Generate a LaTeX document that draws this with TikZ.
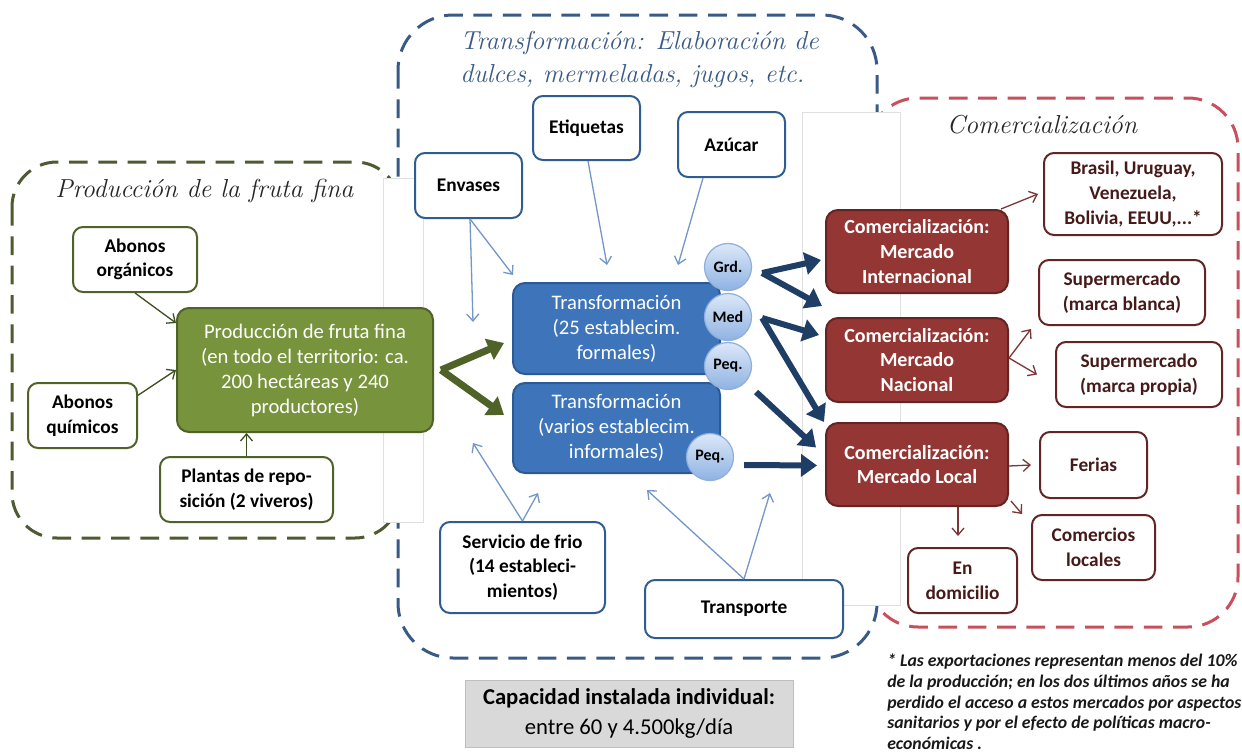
\documentclass[tikz,border=0pt]{standalone}
\usepackage{fontspec}
\newfontfamily\calib{Carlito}
\usetikzlibrary{arrows.meta}
\def\px{0.75pt}
\definecolor{gdark}{HTML}{4F6228}
\definecolor{gfill}{HTML}{77933C}
\definecolor{gdash}{HTML}{4E5A30}
\definecolor{bdash}{HTML}{3A5A86}
\definecolor{bfill}{HTML}{3E75BA}
\definecolor{bbord}{HTML}{2C5A94}
\definecolor{bline}{HTML}{2F5D91}
\definecolor{bthin}{HTML}{7397C8}
\definecolor{bthick}{HTML}{1F3E66}
\definecolor{rfill}{HTML}{943634}
\definecolor{rbord}{HTML}{632523}
\definecolor{rdash}{HTML}{C8505C}
\definecolor{rthin}{HTML}{7B3535}
\definecolor{ctop}{HTML}{DCE8F8}
\definecolor{cbot}{HTML}{8FB2E3}
\definecolor{cbord}{HTML}{8EAEDB}
\definecolor{capf}{HTML}{D9D9D9}
\definecolor{capb}{HTML}{BFBFBF}
\tikzset{
  sz/.style 2 args={minimum width=#1*\px, minimum height=#2*\px},
  region/.style={line width=3*\px, dash pattern=on 14pt off 8pt},
  fold/.style={draw=black!12, fill=white, line width=0.6pt},
  wbox/.style={fill=white, line width=2*\px, rounded corners=10*\px, align=center, inner sep=0pt,
     font=\calib\bfseries\fontsize{14.5}{18.5}\selectfont},
  gsm/.style={wbox, draw=gdark},
  bsm/.style={wbox, draw=bline},
  rsm/.style={wbox, draw=rbord, text=rbord!70!black},
  big/.style={line width=2*\px, rounded corners=12*\px, align=center, inner sep=0pt, text=white,
     font=\calib\fontsize{15.5}{18.75}\selectfont},
  gbig/.style={big, fill=gfill, draw=gdark},
  bbig/.style={big, fill=bfill, draw=bbord},
  rbig/.style={big, fill=rfill, draw=rbord, font=\calib\bfseries\fontsize{15}{18.5}\selectfont},
  ball/.style={circle, minimum size=47*\px, inner sep=0pt, draw=cbord, line width=1.2*\px,
     top color=ctop, bottom color=cbot, font=\calib\bfseries\fontsize{12}{14}\selectfont},
  thinb/.style={draw=bthin, line width=1.3*\px, -{Straight Barb[length=7*\px,width=12*\px]}},
  thinr/.style={draw=rthin, line width=1.3*\px, -{Straight Barb[length=7*\px,width=12*\px]}},
  thing/.style={draw=gdark!80!black, line width=1.3*\px, -{Straight Barb[length=7*\px,width=12*\px]}},
  thickb/.style={draw=bthick, line width=6*\px, -{Triangle[length=16*\px,width=22*\px]}},
  thickg/.style={draw=gdark, line width=7*\px, -{Triangle[length=16*\px,width=22*\px]}},
  title/.style={font=\rmfamily\itshape\fontsize{19.5}{25}\selectfont, inner sep=0pt, align=left},
}
\begin{document}
\begin{tikzpicture}[x=\px, y=-\px]
\useasboundingbox (0,0) rectangle (1242,753);
\fill[white] (0,0) rectangle (1242,753);

% dashed regions
\draw[region, draw=gdash, rounded corners=45*\px] (12,162) rectangle (400,538);
\draw[region, draw=bdash, rounded corners=55*\px] (398,15) rectangle (877,658);
\draw[region, draw=rdash, rounded corners=50*\px] (868,98) rectangle (1238,627);

% folds
\draw[fold] (383,178) rectangle (423,522);
\draw[fold] (802,112) rectangle (900,605);

% titles
\node[title, text=black!85, anchor=west] (tprod) at (55,191) {Producción de la fruta fina};
\node[title, text=bdash, anchor=north west] (ttrans) at (460,31) {Transformación: Elaboración de\\dulces, mermeladas, jugos, etc.};
\node[title, text=black!85] (tcom) at (1042,125) {Comercialización};

% production
\node[gsm, sz={124}{65}] (ao) at (135,259.5) {Abonos\\orgánicos};
\node[gsm, sz={109}{65}] (aq) at (82.5,415.5) {Abonos\\químicos};
\node[gsm, sz={173}{65}] (pl) at (246.5,489.5) {Plantas de repo-\\sición (2 viveros)};
\node[gbig, sz={256}{124}] (main) at (305,370) {Producción de fruta fina\\(en todo el territorio: ca.\\200 hectáreas y 240\\productores)};

\draw[thing] (ao.south) -- (main.160);
\draw[thing] (aq.20) -- (main.west);
\draw[thing] (pl.north) -- (pl.north |- main.south);

% transformation
\node[bsm, sz={107}{65}] (env) at (468.5,185.5) {Envases};
\node[bsm, sz={107}{64}] (eti) at (586.5,128) {Etiquetas};
\node[bsm, sz={107}{65}] (azu) at (731.5,144.5) {Azúcar};
\node[bbig, sz={207}{91}] (tf) at (616.5,328.5) {Transformación\\(25 establecim.\\formales)};
\node[bbig, sz={207}{90}] (ti) at (616.5,428) {Transformación\\(varios establecim.\\informales)};
\node[ball] (grd) at (728,267) {Grd.};
\node[ball] (med) at (728,317) {Med};
\node[ball] (peqa) at (728,366) {Peq.};
\node[ball] (peqb) at (710,457) {Peq.};
\node[bsm, sz={165}{91}] (sf) at (522.5,567.5) {Servicio de frio\\(14 estableci-\\mientos)};
\node[bsm, sz={198}{58}] (tr) at (744,609) {Transporte};

\coordinate (ea) at (513,275);
\coordinate (eb) at (473,322);
\coordinate (et) at (607,265);
\coordinate (az) at (678,265);
\coordinate (sa) at (473,443);
\coordinate (sb) at (538,493);
\coordinate (ta) at (647,490);
\coordinate (tb) at (770,493);
\draw[thinb] ([xshift=1.5*\px]env.south) -- (ea);
\draw[thinb] ([xshift=1.5*\px]env.south) -- (eb);
\draw[thinb] ([xshift=1.5*\px]eti.south) -- (et);
\draw[thinb] ([xshift=-28.5*\px]azu.south) -- (az);
\draw[thinb] (sf.north) -- (sa);
\draw[thinb] (sf.north) -- (sb);
\draw[thinb] (tr.north) -- (ta);
\draw[thinb] (tr.north) -- (tb);

% green thick arrows
\draw[thickg] ([xshift=7*\px]main.east) -- ([xshift=-8*\px,yshift=-14.5*\px]tf.west);
\draw[thickg] ([xshift=7*\px]main.east) -- ([xshift=-8*\px,yshift=13*\px]ti.west);

% commercialisation
\node[rbig, sz={182}{83}] (mi) at (917,251.5) {Comercialización:\\Mercado\\Internacional};
\node[rbig, sz={182}{84}] (mn) at (917,360) {Comercialización:\\Mercado\\Nacional};
\node[rbig, sz={182}{83}] (ml) at (917,464.5) {Comercialización:\\Mercado Local};

\node[rsm, sz={178}{82}] (br) at (1133,194) {Brasil, Uruguay,\\Venezuela,\\Bolivia, EEUU,...*};
\node[rsm, sz={166}{65}] (smb) at (1122,292.5) {Supermercado\\(marca blanca)};
\node[rsm, sz={166}{65}] (smp) at (1139,374.5) {Supermercado\\(marca propia)};
\node[rsm, sz={107}{66}] (fer) at (1093.5,465) {Ferias};
\node[rsm, sz={123}{65}] (com) at (1093.5,547.5) {Comercios\\locales};
\node[rsm, sz={109}{65}] (dom) at (962.5,580.5) {En\\domicilio};

% thick blue arrows
\draw[thickb] ([xshift=10*\px,yshift=-6*\px]grd.east) -- ([xshift=-4*\px,yshift=-8.5*\px]mi.west);
\draw[thickb] ([xshift=10*\px,yshift=-6*\px]grd.east) -- ([xshift=-3*\px,yshift=11*\px]mn.north west);
\draw[thickb] ([xshift=10*\px,yshift=-1*\px]med.east) -- ([xshift=-6*\px,yshift=25*\px]mn.west);
\draw[thickb] ([xshift=10*\px,yshift=-1*\px]med.east) -- ([xshift=-1*\px]ml.north west);
\draw[thickb] ([xshift=4*\px,yshift=-26*\px]peqa.east) -- ([xshift=-9*\px,yshift=17*\px]ml.west);
\draw[thickb] ([xshift=10*\px,yshift=-8*\px]peqb.east) -- ([xshift=-8*\px,yshift=-1*\px]ml.west);

% thin red arrows
\draw[thinr] ([xshift=-8*\px]mi.north east) -- ([xshift=-5*\px]br.west);
\draw[thinr] ([yshift=2*\px]mn.east) -- ([xshift=-7*\px,yshift=-3*\px]smb.south west);
\draw[thinr] ([yshift=2*\px]mn.east) -- ([xshift=-18*\px]smp.west);
\draw[thinr] ([yshift=-1.5*\px]ml.east) -- ([xshift=-8*\px]fer.west);
\draw[thinr] ([xshift=2*\px,yshift=6*\px]ml.south east) -- ([xshift=-9*\px]com.north west);
\draw[thinr] ([xshift=41*\px]ml.south) -- ([xshift=-4.5*\px,yshift=11*\px]dom.north);

% capacity box
\node[draw=capb, fill=capf, line width=1*\px, sz={328}{67}, align=center, inner sep=0pt,
      font=\calib\fontsize{17}{22.5}\selectfont] (cap) at (629,713.5)
  {\textbf{Capacidad instalada individual:}\\entre 60 y 4.500kg/día};

% footnote
\node[anchor=north west, align=left, inner sep=0pt, text=black!90,
      font=\calib\bfseries\itshape\fontsize{13.3}{15.4}\selectfont] (note) at (887,654)
  {* Las exportaciones representan menos del 10\%\\de la producción; en los dos últimos años se ha\\perdido el acceso a estos mercados por aspectos\\sanitarios y por el efecto de políticas macro-\\económicas .};
\end{tikzpicture}
\end{document}
